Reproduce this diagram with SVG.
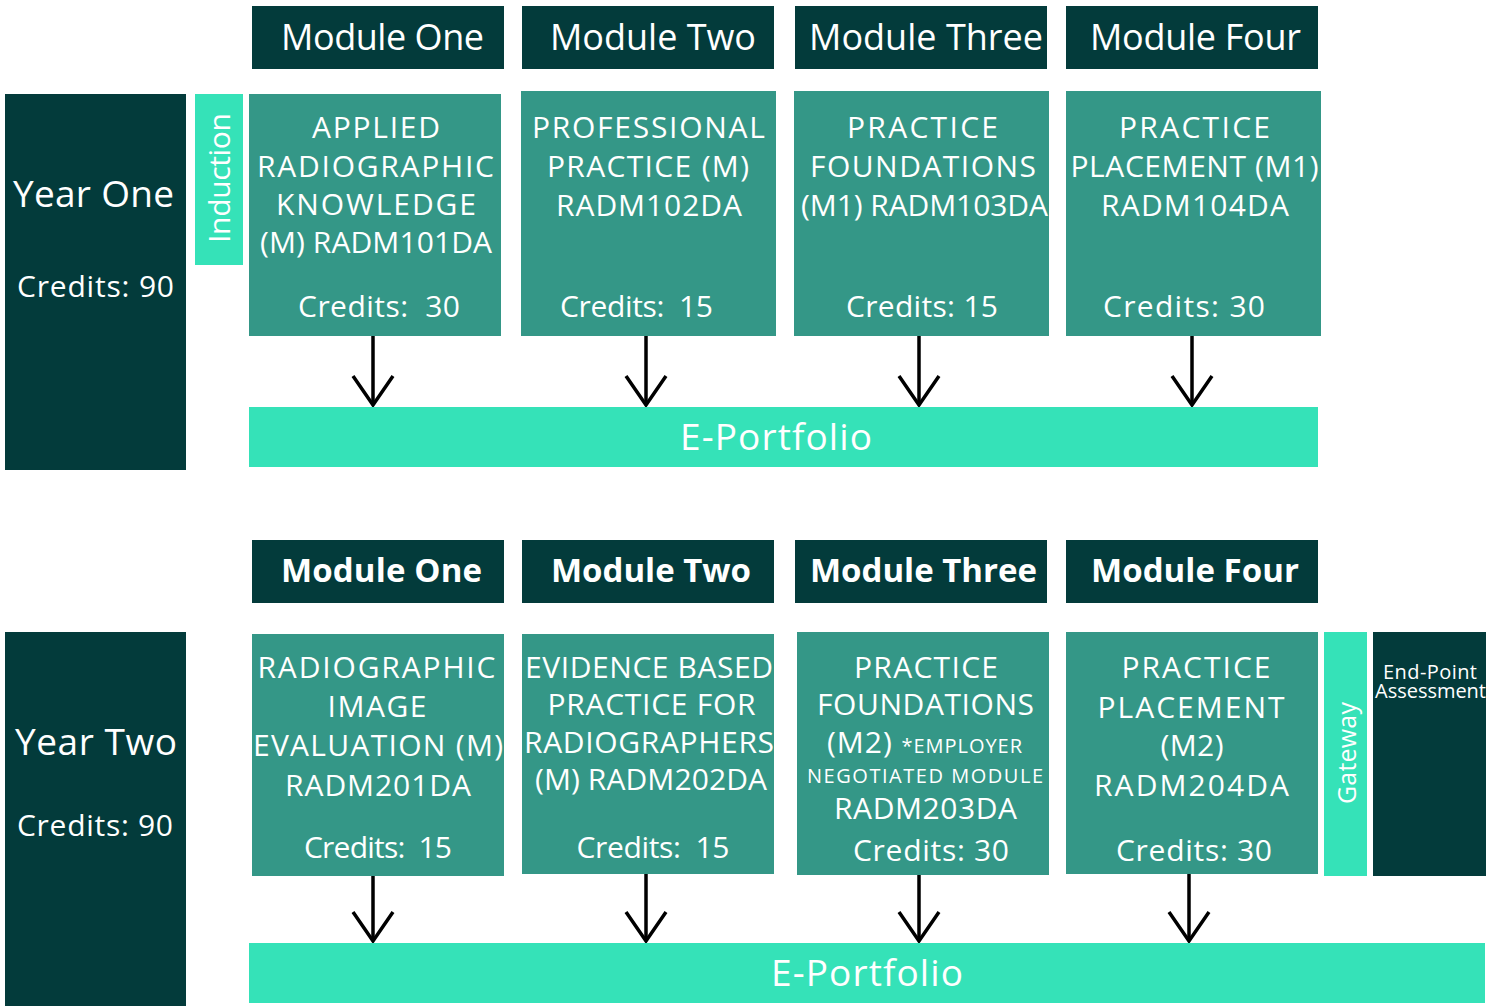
<svg xmlns="http://www.w3.org/2000/svg" width="1500" height="1006" viewBox="0 0 1500 1006">
<style>
  .dark{fill:#033b3b}
  .mid{fill:#349787}
  .bright{fill:#35e2b8}
  text{font-family:"Open Sans","Liberation Sans",sans-serif;fill:#ffffff;text-anchor:middle}
  .hdr{font-size:36px}
  .hdrb{font-size:33px;font-weight:700}
  .body{font-size:30px}
  .small{font-size:20px}
  .year{font-size:37px}
  .port{font-size:37px}
  .conn{stroke:#000;stroke-width:3.5;fill:none}
</style>
<defs>
  <marker id="chev" viewBox="-32 -22 34 44" refX="0" refY="0" markerWidth="34" markerHeight="44" markerUnits="userSpaceOnUse" orient="auto">
    <path d="M-29,-20 L0,0 L-29,20" fill="none" stroke="#000" stroke-width="3.5"/>
  </marker>
</defs>

<!-- Year One row -->
<g id="year-one">
  <rect class="dark" x="5" y="94" width="181" height="376"/>
  <text class="year" x="93.5" y="207" textLength="161">Year One</text>
  <text class="body" x="95.5" y="297" textLength="157">Credits: 90</text>
</g>
<g id="induction">
  <rect class="bright" x="195" y="94" width="48" height="171"/>
  <text class="body" transform="translate(230,178) rotate(-90)" textLength="130">Induction</text>
</g>
<g id="y1-module-one-header">
  <rect class="dark" x="252" y="6" width="252" height="63"/>
  <text class="hdr" x="382.5" y="50" textLength="203">Module One</text>
</g>
<g id="y1-module-two-header">
  <rect class="dark" x="522" y="6" width="252" height="63"/>
  <text class="hdr" x="653" y="50" textLength="206">Module Two</text>
</g>
<g id="y1-module-three-header">
  <rect class="dark" x="795" y="6" width="252" height="63"/>
  <text class="hdr" x="926" y="50" textLength="234">Module Three</text>
</g>
<g id="y1-module-four-header">
  <rect class="dark" x="1066" y="6" width="252" height="63"/>
  <text class="hdr" x="1195.5" y="50" textLength="211">Module Four</text>
</g>
<g id="radm101da">
  <rect class="mid" x="249" y="94" width="252" height="242"/>
  <text class="body" x="376" y="138" textLength="128">APPLIED</text>
  <text class="body" x="375.5" y="177" textLength="237">RADIOGRAPHIC</text>
  <text class="body" x="376" y="215" textLength="200">KNOWLEDGE</text>
  <text class="body" x="376" y="253" textLength="232">(M) RADM101DA</text>
  <text class="body" x="379" y="317" textLength="162" xml:space="preserve">Credits:  30</text>
</g>
<g id="radm102da">
  <rect class="mid" x="521" y="91" width="255" height="245"/>
  <text class="body" x="648.5" y="138" textLength="233">PROFESSIONAL</text>
  <text class="body" x="648" y="177" textLength="202">PRACTICE (M)</text>
  <text class="body" x="649" y="216" textLength="186">RADM102DA</text>
  <text class="body" x="636.5" y="317" textLength="153" xml:space="preserve">Credits:  15</text>
</g>
<g id="radm103da">
  <rect class="mid" x="794" y="91" width="255" height="245"/>
  <text class="body" x="922.5" y="138" textLength="151">PRACTICE</text>
  <text class="body" x="923" y="177" textLength="226">FOUNDATIONS</text>
  <text class="body" x="924.5" y="216" textLength="247">(M1) RADM103DA</text>
  <text class="body" x="922" y="317" textLength="152">Credits: 15</text>
</g>
<g id="radm104da">
  <rect class="mid" x="1066" y="91" width="255" height="245"/>
  <text class="body" x="1194.5" y="138" textLength="151">PRACTICE</text>
  <text class="body" x="1194.5" y="177" textLength="248">PLACEMENT (M1)</text>
  <text class="body" x="1195" y="216" textLength="188">RADM104DA</text>
  <text class="body" x="1184" y="317" textLength="162">Credits: 30</text>
</g>
<g id="y1-eportfolio">
  <rect class="bright" x="249" y="407" width="1069" height="60"/>
  <text class="port" x="776" y="450" textLength="192">E-Portfolio</text>
</g>

<!-- Year Two row -->
<g id="year-two">
  <rect class="dark" x="5" y="632" width="181" height="374"/>
  <text class="year" x="96" y="755" textLength="162">Year Two</text>
  <text class="body" x="95" y="836" textLength="156">Credits: 90</text>
</g>
<g id="y2-module-one-header">
  <rect class="dark" x="252" y="540" width="252" height="63"/>
  <text class="hdrb" x="381.5" y="582" textLength="201">Module One</text>
</g>
<g id="y2-module-two-header">
  <rect class="dark" x="522" y="540" width="252" height="63"/>
  <text class="hdrb" x="651" y="582" textLength="200">Module Two</text>
</g>
<g id="y2-module-three-header">
  <rect class="dark" x="795" y="540" width="252" height="63"/>
  <text class="hdrb" x="923.5" y="582" textLength="227">Module Three</text>
</g>
<g id="y2-module-four-header">
  <rect class="dark" x="1066" y="540" width="252" height="63"/>
  <text class="hdrb" x="1195" y="582" textLength="208">Module Four</text>
</g>
<g id="radm201da">
  <rect class="mid" x="252" y="634" width="252" height="242"/>
  <text class="body" x="376.5" y="678" textLength="238">RADIOGRAPHIC</text>
  <text class="body" x="377" y="717" textLength="99">IMAGE</text>
  <text class="body" x="378" y="756" textLength="250">EVALUATION (M)</text>
  <text class="body" x="378" y="796" textLength="186">RADM201DA</text>
  <text class="body" x="378" y="858" textLength="148" xml:space="preserve">Credits:  15</text>
</g>
<g id="radm202da">
  <rect class="mid" x="522" y="634" width="252" height="240"/>
  <text class="body" x="649" y="678" textLength="248">EVIDENCE BASED</text>
  <text class="body" x="651.5" y="715" textLength="208">PRACTICE FOR</text>
  <text class="body" x="649" y="753" textLength="250">RADIOGRAPHERS</text>
  <text class="body" x="651" y="790" textLength="232">(M) RADM202DA</text>
  <text class="body" x="653" y="858" textLength="153" xml:space="preserve">Credits:  15</text>
</g>
<g id="radm203da">
  <rect class="mid" x="797" y="632" width="252" height="243"/>
  <text class="body" x="926" y="678" textLength="144">PRACTICE</text>
  <text class="body" x="925.5" y="715" textLength="217">FOUNDATIONS</text>
  <text class="body" x="924.5" y="753" textLength="195">(M2) <tspan class="small">*EMPLOYER</tspan></text>
  <text class="small" x="925" y="783" textLength="236">NEGOTIATED MODULE</text>
  <text class="body" x="925.5" y="819" textLength="183">RADM203DA</text>
  <text class="body" x="931" y="861" textLength="156">Credits: 30</text>
</g>
<g id="radm204da">
  <rect class="mid" x="1066" y="632" width="252" height="242"/>
  <text class="body" x="1196" y="678" textLength="149">PRACTICE</text>
  <text class="body" x="1191" y="718" textLength="187">PLACEMENT</text>
  <text class="body" x="1192" y="756" textLength="63">(M2)</text>
  <text class="body" x="1191.5" y="796" textLength="195">RADM204DA</text>
  <text class="body" x="1194" y="861" textLength="156">Credits: 30</text>
</g>
<g id="gateway">
  <rect class="bright" x="1324" y="632" width="43" height="244"/>
  <text x="0" y="0" style="font-size:25px" transform="translate(1356,753) rotate(-90)" textLength="102">Gateway</text>
</g>
<g id="end-point-assessment">
  <rect class="dark" x="1373" y="632" width="113" height="244"/>
  <text class="small" x="1430" y="679" textLength="94">End-Point</text>
  <text class="small" x="1430.5" y="698" textLength="111">Assessment</text>
</g>
<g id="y2-eportfolio">
  <rect class="bright" x="249" y="943" width="1236" height="60"/>
  <text class="port" x="867" y="986" textLength="192">E-Portfolio</text>
</g>

<!-- Connectors -->
<g id="connectors">
  <line class="conn" x1="373" y1="336" x2="373" y2="405" marker-end="url(#chev)"/>
  <line class="conn" x1="646" y1="336" x2="646" y2="405" marker-end="url(#chev)"/>
  <line class="conn" x1="919" y1="336" x2="919" y2="405" marker-end="url(#chev)"/>
  <line class="conn" x1="1192" y1="336" x2="1192" y2="405" marker-end="url(#chev)"/>
  <line class="conn" x1="373" y1="876" x2="373" y2="941" marker-end="url(#chev)"/>
  <line class="conn" x1="646" y1="874" x2="646" y2="941" marker-end="url(#chev)"/>
  <line class="conn" x1="919" y1="875" x2="919" y2="941" marker-end="url(#chev)"/>
  <line class="conn" x1="1189" y1="874" x2="1189" y2="941" marker-end="url(#chev)"/>
</g>
</svg>
